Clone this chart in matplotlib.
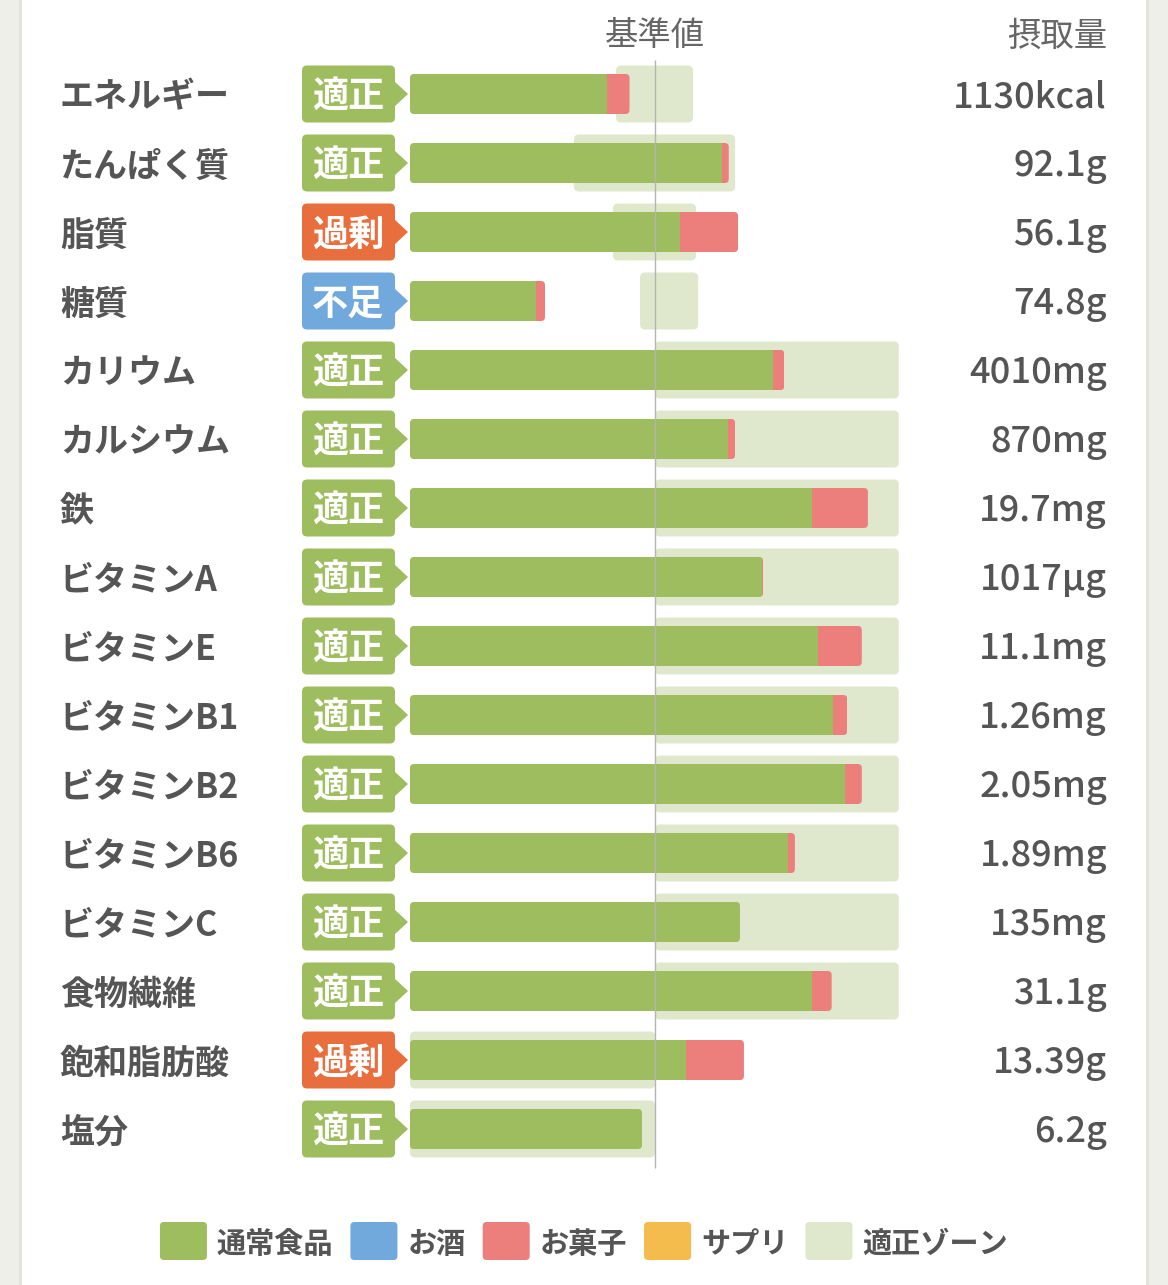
import matplotlib
matplotlib.use('Agg')
import matplotlib.pyplot as plt
from matplotlib.patches import FancyBboxPatch, Polygon, Rectangle

plt.rcParams['font.family'] = ['Noto Sans CJK JP', 'DejaVu Sans']

# data (percent of the reference value)
nutrients = ['エネルギー', 'たんぱく質', '脂質', '糖質', 'カリウム', 'カルシウム', '鉄',
             'ビタミンA', 'ビタミンE', 'ビタミンB1', 'ビタミンB2', 'ビタミンB6',
             'ビタミンC', '食物繊維', '飽和脂肪酸', '塩分']
status = ['適正', '適正', '過剰', '不足', '適正', '適正', '適正', '適正',
          '適正', '適正', '適正', '適正', '適正', '適正', '過剰', '適正']
amounts = ['1130kcal', '92.1g', '56.1g', '74.8g', '4010mg', '870mg', '19.7mg',
           '1017µg', '11.1mg', '1.26mg', '2.05mg', '1.89mg', '135mg', '31.1g',
           '13.39g', '6.2g']
food_pct = [80.6, 127.2, 110.2, 51.4, 148.0, 129.8, 164.1, 143.6,
            166.4, 172.5, 177.4, 154.3, 134.7, 164.1, 112.7, 94.7]
snack_pct = [9.0, 2.9, 23.7, 3.7, 4.8, 2.9, 22.8, 0.5,
             18.0, 6.0, 7.0, 2.8, 0.0, 8.0, 23.6, 0.0]
zone_lo = [84.1, 66.9, 82.9, 93.9, 100, 100, 100, 100,
           100, 100, 100, 100, 100, 100, 0, 0]
zone_hi = [115.5, 132.7, 116.7, 117.6, 199.5, 199.5, 199.5, 199.5,
           199.5, 199.5, 199.5, 199.5, 199.5, 199.5, 100, 100]

legend_labels = ['通常食品', 'お酒', 'お菓子', 'サプリ', '適正ゾーン']

GREEN = '#9dbd5e'
RED = '#ec7f7c'
ZONE = '#dfe8cc'
BLUE = '#71a9dc'
YELLOW = '#f4bc4c'
ORANGE = '#e96e3d'
TXT = '#555555'
badge_colors = {'適正': GREEN, '過剰': ORANGE, '不足': BLUE}
legend_colors = [GREEN, BLUE, RED, YELLOW, ZONE]

# layout in pixels
W, H = 1168, 1285
ROW0, ROW_H = 94, 69
X0, PX_PER_PCT = 410, 2.45
DY = 3  # text sits a bit low in its bbox
n = len(nutrients)

fig = plt.figure(figsize=(W / 100, H / 100), dpi=100, facecolor='#efefe9')

ov = fig.add_axes([0, 0, 1, 1], zorder=1)
ov.set_xlim(0, W)
ov.set_ylim(H, 0)
ov.axis('off')
ov.add_patch(Rectangle((21, 0), 1126, H, fc='white', ec='none'))
ov.plot([20, 20], [0, H], color='#e3e3dc', lw=2)
ov.plot([1147, 1147], [0, H], color='#e3e3dc', lw=2)

ax = fig.add_axes([X0 / W, 1 - (ROW0 + ROW_H * (n - 0.5)) / H,
                   200 * PX_PER_PCT / W, ROW_H * n / H], zorder=2)
ax.set_xlim(0, 200)
ax.set_ylim(n - 0.5, -0.5)
ax.axis('off')
ax.patch.set_visible(False)

aspect = PX_PER_PCT / ROW_H
bar_h = 40 / ROW_H
zone_h = 57 / ROW_H
rows = list(range(n))

for i in rows:
    ax.add_patch(FancyBboxPatch((zone_lo[i], i - zone_h / 2), zone_hi[i] - zone_lo[i], zone_h,
                                boxstyle='round,pad=0,rounding_size=%f' % (5 / PX_PER_PCT),
                                mutation_aspect=aspect, fc=ZONE, ec='none', zorder=1))

food_bars = ax.barh(rows, food_pct, height=bar_h, color=GREEN, zorder=2)
snack_bars = ax.barh(rows, snack_pct, left=food_pct, height=bar_h, color=RED, zorder=2)
for i in rows:
    total = food_pct[i] + snack_pct[i]
    clip = FancyBboxPatch((0, i - bar_h / 2), total, bar_h,
                          boxstyle='round,pad=0,rounding_size=%f' % (4 / PX_PER_PCT),
                          mutation_aspect=aspect, transform=ax.transData)
    food_bars[i].set_clip_path(clip)
    snack_bars[i].set_clip_path(clip)

ax.vlines(100, -0.5, n - 0.43, color='#b4b4b4', lw=1, zorder=3, clip_on=False)

# headers
ov.text(655, 33 + DY, '基準値', ha='center', va='center', fontsize=24, color='#666666')
ov.text(1107, 33 + DY, '摂取量', ha='right', va='center', fontsize=24, color='#666666')

for i in rows:
    yc = ROW0 + ROW_H * i
    col = badge_colors[status[i]]
    ov.text(60, yc + DY, nutrients[i], ha='left', va='center', fontsize=24.5,
            weight='bold', color=TXT)
    ov.add_patch(FancyBboxPatch((302, yc - 28.5), 93, 57,
                                boxstyle='round,pad=0,rounding_size=5', fc=col, ec='none'))
    ov.add_patch(Polygon([(394, yc - 13), (408, yc), (394, yc + 13)], closed=True,
                         fc=col, ec='none'))
    ov.text(348, yc + DY, status[i], ha='center', va='center', fontsize=26,
            weight='bold', color='white')
    ov.text(1107, yc + DY, amounts[i], ha='right', va='center', fontsize=26,
            weight='medium', color=TXT)

# legend
renderer = fig.canvas.get_renderer()
ly = 1241
sq_w, sq_h, gap_in, gap_out = 47, 38, 10, 17
texts = [ov.text(0, ly + DY, lab, ha='left', va='center', fontsize=21, weight='bold', color=TXT)
         for lab in legend_labels]
widths = [t.get_window_extent(renderer).width for t in texts]
total_w = sum(sq_w + gap_in + w for w in widths) + gap_out * (len(widths) - 1)
x = (21 + 1147) / 2 - total_w / 2
for t, w, c in zip(texts, widths, legend_colors):
    ov.add_patch(FancyBboxPatch((x, ly - sq_h / 2), sq_w, sq_h,
                                boxstyle='round,pad=0,rounding_size=4', fc=c, ec='none'))
    t.set_x(x + sq_w + gap_in)
    x += sq_w + gap_in + w + gap_out

fig.savefig('out.png', dpi=100, facecolor=fig.get_facecolor())
